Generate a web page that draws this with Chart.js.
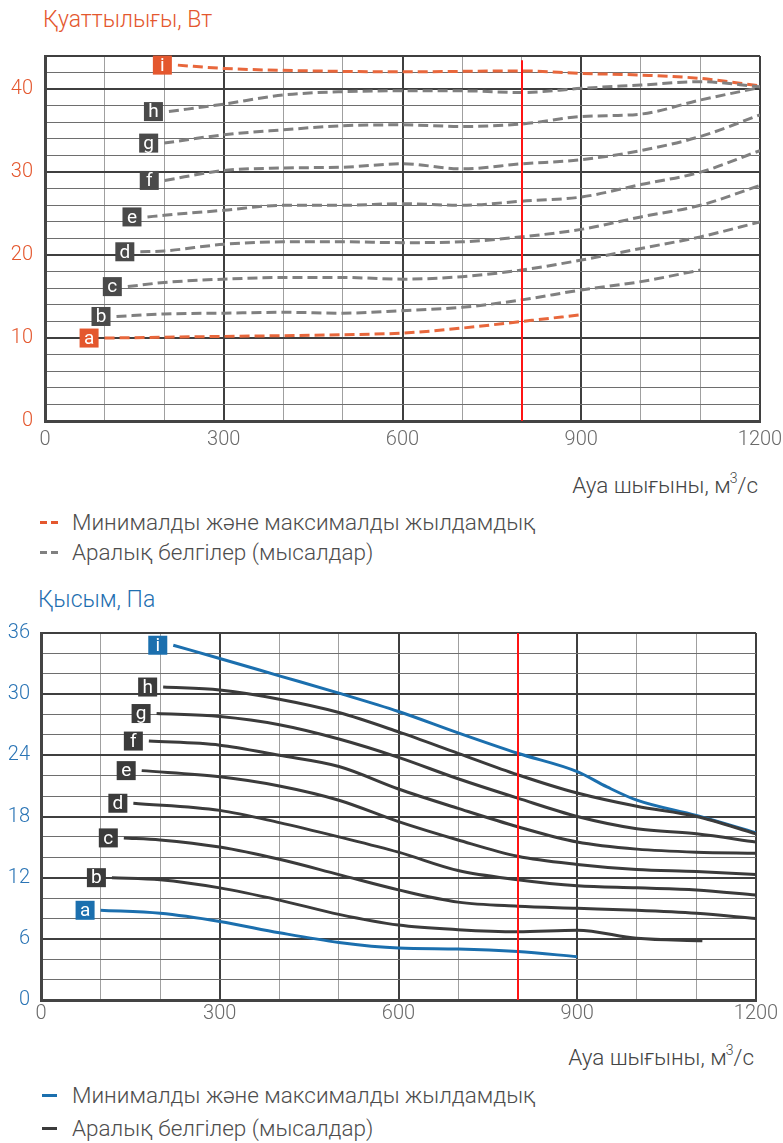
<!DOCTYPE html>
<html><head><meta charset="utf-8">
<script src="https://cdn.jsdelivr.net/npm/chart.js@4.4.1/dist/chart.umd.min.js"></script>
<style>
html,body{margin:0;padding:0;background:#fff;}
body{width:783px;height:1143px;position:relative;overflow:hidden;font-family:Roboto,'Liberation Sans',Arial,sans-serif;font-weight:300;}
.abs{position:absolute;white-space:nowrap;line-height:26px;}
canvas{position:absolute;left:0;}
.sup{font-size:14px;position:relative;top:-10px;margin-left:-1px;}
.dash{position:absolute;height:3px;}
</style></head><body>
<div class="abs" style="left:43px;top:7px;font-size:23px;color:#e4572e;">Қуаттылығы, Вт</div>
<div class="abs" style="right:25px;top:472px;font-size:22.5px;color:#444;">Ауа шығыны, м<span class="sup">3</span>/с</div>
<div class="dash" style="left:40px;top:521px;width:7px;background:#e4572e;"></div>
<div class="dash" style="left:51px;top:521px;width:7px;background:#e4572e;"></div>
<div class="abs" style="left:72px;top:509px;font-size:22.5px;color:#4d4d4d;">Минималды және максималды жылдамдық</div>
<div class="dash" style="left:40px;top:551px;width:7px;background:#808080;"></div>
<div class="dash" style="left:51px;top:551px;width:7px;background:#808080;"></div>
<div class="abs" style="left:72px;top:539px;font-size:22.5px;color:#4d4d4d;">Аралық белгілер (мысалдар)</div>

<div class="abs" style="left:38px;top:587px;font-size:23px;color:#1f6fb0;">Қысым, Па</div>
<div class="abs" style="right:29px;top:1044px;font-size:22.5px;color:#444;">Ауа шығыны, м<span class="sup">3</span>/с</div>
<div class="dash" style="left:42px;top:1094px;width:15px;background:#1b6fae;"></div>
<div class="abs" style="left:72px;top:1082px;font-size:22.5px;color:#4d4d4d;">Минималды және максималды жылдамдық</div>
<div class="dash" style="left:42px;top:1127px;width:15px;background:#3b3b3b;"></div>
<div class="abs" style="left:72px;top:1115px;font-size:22.5px;color:#4d4d4d;">Аралық белгілер (мысалдар)</div>

<canvas id="c1" width="800" height="440" style="top:20px;"></canvas>
<canvas id="c2" width="800" height="460" style="top:580px;"></canvas>

<script>
// ---- Data (air flow m3/s, value) ----
const seriesLetters = ['a','b','c','d','e','f','g','h','i'];
const flowTicks = [0, 300, 600, 900, 1200];
const powerTicks = [0, 10, 20, 30, 40];
const pressureTicks = [0, 6, 12, 18, 24, 30, 36];
const markerFlow = 800;

// Power, W
const powerA = [[100,10.0],[300,10.2],[500,10.4],[600,10.6],[700,11.2],[800,12.0],[900,12.8]];
const powerB = [[120,12.6],[200,12.9],[300,13.0],[400,13.1],[500,13.0],[600,13.3],[700,13.7],[800,14.6],[900,15.8],[1000,16.8],[1100,18.2]];
const powerC = [[139,16.2],[200,16.7],[300,17.1],[400,17.3],[500,17.3],[600,17.1],[700,17.4],[800,18.2],[900,19.4],[1000,20.8],[1100,22.2],[1200,24.0]];
const powerD = [[160,20.4],[200,20.5],[300,21.3],[400,21.6],[500,21.6],[600,21.5],[700,21.6],[800,22.2],[900,23.1],[1000,24.6],[1100,26.0],[1200,28.4]];
const powerE = [[172,24.6],[200,24.8],[300,25.4],[400,26.0],[500,26.0],[600,26.2],[700,26.0],[800,26.5],[900,27.0],[1000,28.5],[1100,30.0],[1200,32.6]];
const powerF = [[201,29.0],[300,30.2],[400,30.5],[500,30.6],[600,31.0],[700,30.4],[800,31.0],[900,31.5],[1000,32.6],[1100,34.3],[1200,36.9]];
const powerG = [[200,33.5],[300,34.5],[400,35.1],[500,35.6],[600,35.7],[700,35.5],[800,35.8],[900,36.7],[1000,37.0],[1100,38.7],[1200,40.2]];
const powerH = [[208,37.3],[300,38.2],[400,39.3],[500,39.7],[600,39.8],[700,39.8],[800,39.6],[900,40.1],[1000,40.5],[1100,40.9],[1200,40.3]];
const powerI = [[223,42.9],[300,42.5],[450,42.2],[600,42.1],[800,42.2],[900,41.9],[1000,41.7],[1100,41.3],[1200,40.4]];

// Pressure, Pa
const pressA = [[100,8.8],[200,8.5],[300,7.7],[400,6.6],[500,5.65],[600,5.1],[700,5.0],[800,4.75],[900,4.25]];
const pressB = [[119,12.0],[200,11.8],[300,11.0],[400,9.8],[500,8.4],[600,7.35],[700,6.9],[800,6.7],[900,6.85],[1000,6.05],[1110,5.8]];
const pressC = [[139,15.9],[200,15.7],[300,15.0],[400,13.8],[500,12.3],[600,10.8],[700,9.6],[800,9.2],[900,9.0],[1000,8.8],[1100,8.5],[1200,8.0]];
const pressD = [[155,19.3],[300,18.6],[400,17.4],[500,16.0],[600,14.5],[700,12.7],[800,11.8],[900,11.2],[1000,11.0],[1100,10.8],[1200,10.3]];
const pressE = [[169,22.5],[300,21.9],[400,21.0],[500,19.6],[600,17.5],[700,15.7],[800,14.1],[900,13.3],[1000,12.8],[1100,12.6],[1200,12.3]];
const pressF = [[181,25.4],[300,25.0],[400,24.0],[500,22.9],[600,20.7],[700,18.8],[800,17.0],[900,15.5],[1000,14.8],[1100,14.5],[1200,14.4]];
const pressG = [[194,28.1],[300,27.8],[400,27.0],[500,25.6],[600,23.8],[700,21.7],[800,19.8],[900,18.0],[1000,16.8],[1100,16.3],[1200,15.5]];
const pressH = [[205,30.7],[300,30.4],[400,29.5],[500,28.2],[600,26.3],[700,24.2],[800,22.1],[900,20.3],[1000,19.0],[1100,18.0],[1200,16.3]];
const pressI = [[222,34.8],[300,33.5],[400,31.8],[500,30.1],[600,28.3],[700,26.2],[800,24.2],[900,22.4],[950,20.9],[1000,19.6],[1100,18.1],[1200,16.4]];

const powerSeries = [powerA,powerB,powerC,powerD,powerE,powerF,powerG,powerH,powerI];
const pressSeries = [pressA,pressB,pressC,pressD,pressE,pressF,pressG,pressH,pressI];

const FONT = 'Roboto, "Liberation Sans", Arial, sans-serif';
const toXY = arr => arr.map(p => ({x:p[0], y:p[1]}));

function labelPlugin(boxColors) {
  return {
    id: 'extras',
    afterDatasetsDraw(chart) {
      const ctx = chart.ctx, xs = chart.scales.x, ys = chart.scales.y, area = chart.chartArea;
      const rx = Math.round(xs.getPixelForValue(markerFlow));
      const topY = chart.options.plugins.extras.redTop;
      ctx.save();
      ctx.strokeStyle = '#ff1414';
      ctx.lineWidth = 2;
      ctx.beginPath();
      ctx.moveTo(rx, topY == null ? area.top : ys.getPixelForValue(topY));
      ctx.lineTo(rx, area.bottom);
      ctx.stroke();
      chart.data.datasets.forEach((ds, i) => {
        const p0 = ds.data[0];
        const px = xs.getPixelForValue(p0.x), py = ys.getPixelForValue(p0.y);
        const size = 19, gap = 6;
        const bx = px - gap - size, by = py - size / 2;
        ctx.fillStyle = boxColors[i];
        ctx.fillRect(bx, by, size, size);
        ctx.fillStyle = '#ffffff';
        ctx.font = '400 19px ' + FONT;
        ctx.textAlign = 'center';
        ctx.textBaseline = 'middle';
        ctx.fillText(seriesLetters[i], bx + size / 2, by + size / 2 + 1);
      });
      ctx.restore();
    }
  };
}

function makeChart(id, series, opts) {
  const datasets = series.map((s, i) => {
    const edge = (i === 0 || i === series.length - 1);
    return {
      label: seriesLetters[i],
      data: toXY(s),
      borderColor: edge ? opts.edgeColor : opts.midColor,
      borderWidth: opts.lineWidth,
      borderDash: opts.dash,
      pointRadius: 0,
      cubicInterpolationMode: 'monotone',
      fill: false
    };
  });
  const boxColors = series.map((s, i) => (i === 0 || i === series.length - 1) ? opts.edgeBox : opts.midBox);
  return new Chart(document.getElementById(id), {
    type: 'line',
    data: { datasets },
    plugins: [labelPlugin(boxColors)],
    options: {
      responsive: false,
      animation: false,
      events: [],
      layout: { padding: { top: opts.padTop, right: opts.padRight, left: 0, bottom: 0 } },
      plugins: { legend: { display: false }, tooltip: { enabled: false }, extras: { redTop: opts.redTop } },
      scales: {
        x: {
          type: 'linear', min: 0, max: 1200,
          afterFit: s => { s.height = opts.xHeight; },
          ticks: {
            stepSize: 100, autoSkip: false, maxRotation: 0, padding: opts.xPad,
            color: '#6a6a6a', font: { family: FONT, size: 20, weight: '300' },
            callback: v => flowTicks.includes(v) ? String(v) : ''
          },
          grid: {
            drawTicks: false,
            color: c => (c.tick.value % 300 === 0) ? '#3f3f3f' : '#a0a0a0',
            lineWidth: c => (c.tick.value % 300 === 0) ? 2 : 1
          },
          border: { color: '#444', width: 3 }
        },
        y: {
          type: 'linear', min: 0, max: opts.yMax,
          afterFit: s => { s.width = opts.yWidth; },
          ticks: {
            stepSize: 2, autoSkip: false, padding: opts.yPad,
            color: opts.yTickColor, font: { family: FONT, size: 20, weight: '300' },
            callback: v => opts.yTicks.includes(v) ? String(v) : ''
          },
          grid: {
            drawTicks: false,
            color: c => (c.tick.value % opts.yMajor === 0 || c.tick.value === opts.yMax) ? '#3f3f3f' : '#6e6e6e',
            lineWidth: c => (c.tick.value % opts.yMajor === 0 || c.tick.value === opts.yMax) ? 2 : 1
          },
          border: { color: '#444', width: 3 }
        }
      }
    }
  });
}

makeChart('c1', powerSeries, {
  edgeColor: '#e8673c', midColor: '#808080', lineWidth: 3, dash: [10, 5],
  edgeBox: '#e4572e', midBox: '#4a4a4a',
  padTop: 36, padRight: 40, xHeight: 39, xPad: 7, yWidth: 45, yPad: 12,
  yMax: 44, yMajor: 10, yTicks: powerTicks, yTickColor: '#e4572e', redTop: 43.5
});

makeChart('c2', pressSeries, {
  edgeColor: '#1b6fae', midColor: '#3b3b3b', lineWidth: 3, dash: [],
  edgeBox: '#1b6fae', midBox: '#3b3b3b',
  padTop: 53, padRight: 44, xHeight: 40, xPad: 2, yWidth: 41, yPad: 11,
  yMax: 36, yMajor: 6, yTicks: pressureTicks, yTickColor: '#2a74b5', redTop: null
});
</script>
</body></html>
